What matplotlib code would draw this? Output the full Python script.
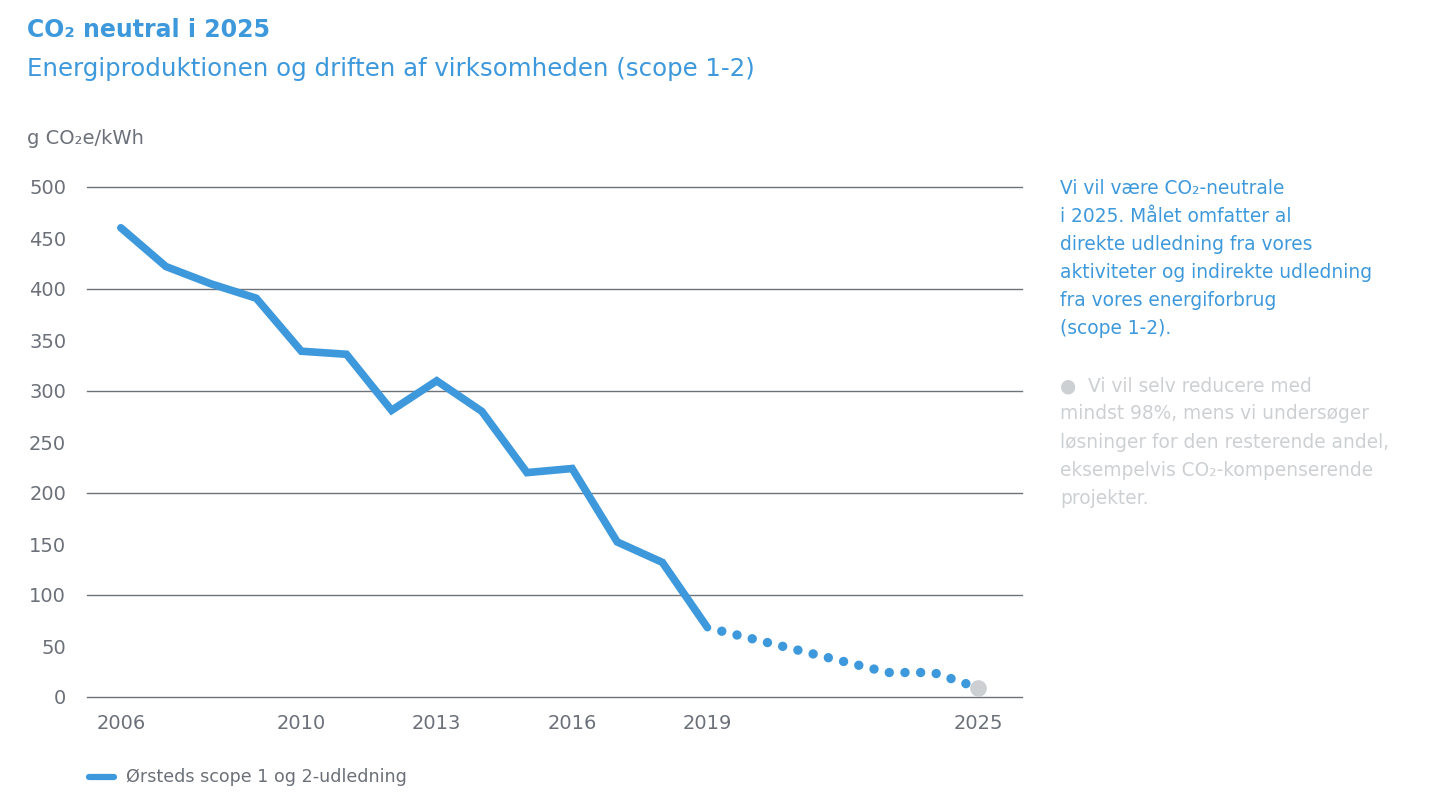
import matplotlib
matplotlib.use("Agg")
import matplotlib.pyplot as plt

# Data
years = [2006, 2007, 2008, 2009, 2010, 2011, 2012, 2013, 2014, 2015, 2016, 2017, 2018, 2019]
emissions = [460, 422, 405, 391, 339, 336, 281, 310, 280, 220, 224, 152, 132, 68]
target_years = [2019, 2023, 2024, 2025]
target_values = [68, 24, 24, 9]
goal_year = 2025
goal_value = 9
x_ticks = [2006, 2010, 2013, 2016, 2019, 2025]
y_ticks = [0, 50, 100, 150, 200, 250, 300, 350, 400, 450, 500]
grid_values = [0, 100, 200, 300, 400, 500]

BLUE = "#3d99dc"
GRAY = "#6b7079"
LIGHT = "#cdd0d3"
GRID = "#6e737a"
FONT = ["DejaVu Sans"]

plt.rcParams['font.family'] = FONT

fig = plt.figure(figsize=(14.4, 8.1), dpi=100)
ax = fig.add_axes([87/1440, 1 - 697/810, (1022-87)/1440, 510/810])
ax.set_xlim(2005.25, 2025.97)
ax.set_ylim(0, 500)

for g in grid_values:
    ax.axhline(g, color=GRID, lw=1.0, zorder=1, clip_on=False)

ax.plot(years, emissions, color=BLUE, lw=5.5, solid_capstyle='round',
        solid_joinstyle='miter', zorder=3, clip_on=False)
ax.plot(target_years, target_values, color=BLUE, lw=6.8,
        linestyle=(0.1, (0.001, 1.66)), dash_capstyle='round', zorder=3, clip_on=False)
ax.plot([goal_year], [goal_value], 'o', color=LIGHT, ms=11, zorder=4, clip_on=False)

for s in ax.spines.values():
    s.set_visible(False)
ax.set_xticks(x_ticks)
ax.set_xticklabels([str(t) for t in x_ticks])
ax.set_yticks(y_ticks)
ax.set_yticklabels([str(t) for t in y_ticks])
ax.tick_params(axis='both', length=0, labelsize=14, labelcolor=GRAY)
ax.tick_params(axis='y', pad=15)
ax.tick_params(axis='x', pad=12)

# Titles
fig.text(27/1440, 1 - 30/810, "CO₂ neutral i 2025", color=BLUE, fontsize=17,
         fontweight='bold', va='center', ha='left')
fig.text(27/1440, 1 - 69/810, "Energiproduktionen og driften af virksomheden (scope 1-2)",
         color=BLUE, fontsize=17.6, va='center', ha='left')
fig.text(27/1440, 1 - 138/810, "g CO₂e/kWh", color=GRAY, fontsize=14,
         va='center', ha='left')

# Right-side text
blue_lines = ["Vi vil være CO₂-neutrale", "i 2025. Målet omfatter al",
              "direkte udledning fra vores", "aktiviteter og indirekte udledning",
              "fra vores energiforbrug", "(scope 1-2)."]
for i, line in enumerate(blue_lines):
    fig.text(1060/1440, 1 - (189 + 28*i)/810, line, color=BLUE, fontsize=13.4,
             va='center', ha='left')

gray_lines = ["●  Vi vil selv reducere med", "mindst 98%, mens vi undersøger",
              "løsninger for den resterende andel,", "eksempelvis CO₂-kompenserende",
              "projekter."]
for i, line in enumerate(gray_lines):
    fig.text(1060/1440, 1 - (386 + 28*i)/810, line, color=LIGHT, fontsize=13.4,
             va='center', ha='left')

# Legend
fig.add_artist(plt.Line2D([89/1440, 114/1440], [1 - 777/810, 1 - 777/810],
                          color=BLUE, lw=4.5, solid_capstyle='round'))
fig.text(126/1440, 1 - 777/810, "Ørsteds scope 1 og 2-udledning", color=GRAY,
         fontsize=12.6, va='center', ha='left')

fig.savefig("out.png", dpi=100, facecolor='white')
